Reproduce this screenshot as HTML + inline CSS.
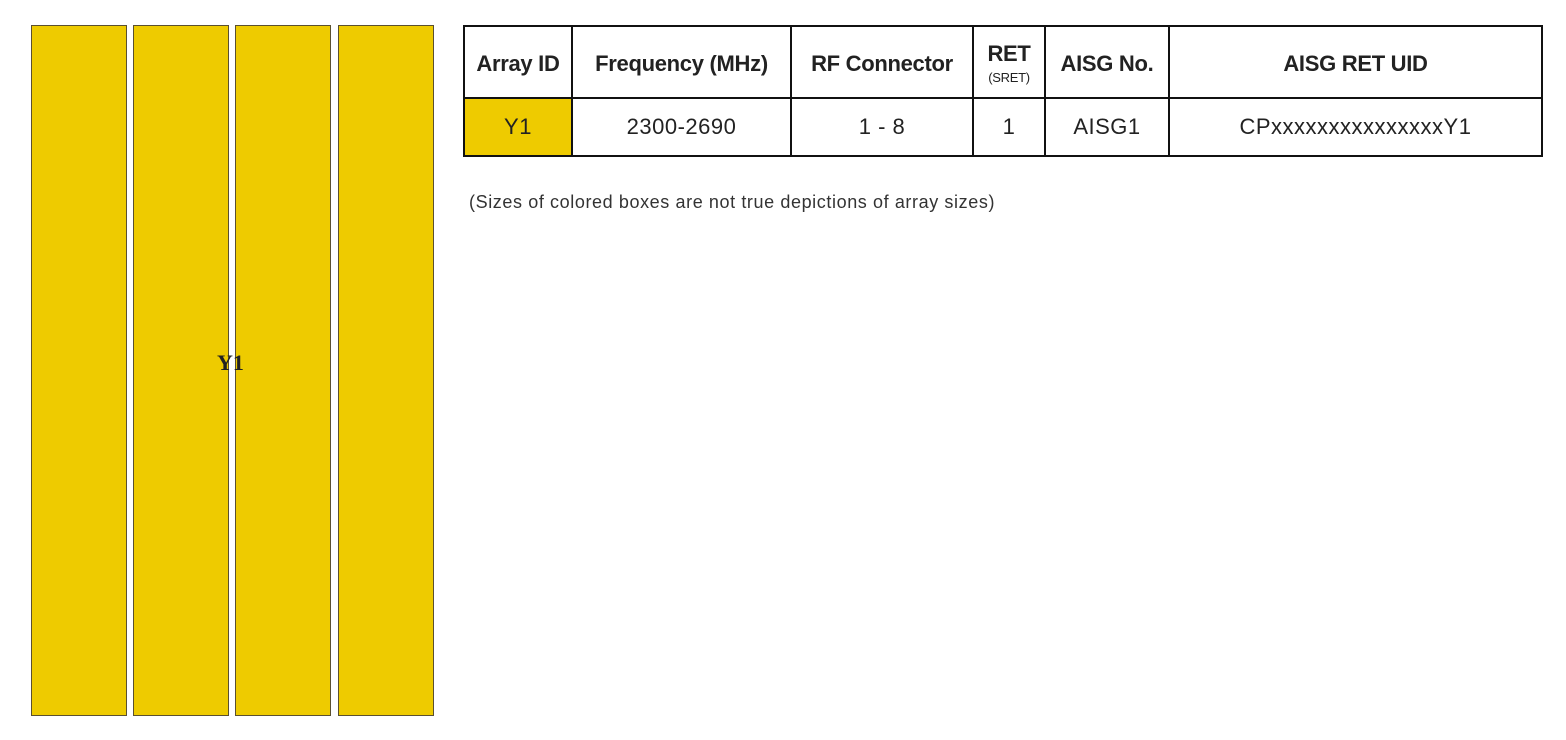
<!DOCTYPE html>
<html><head><style>
body{margin:0;width:1566px;height:740px;background:#fff;position:relative;overflow:hidden;font-family:"Liberation Sans",sans-serif}
.bar{position:absolute;top:25px;height:689px;width:94px;background:#eecb00;border:1px solid #5a5030}
.lbl{position:absolute;left:217px;top:350px;font:bold 22px "Liberation Serif",serif;color:#222}
table{position:absolute;left:463px;top:25px;border-collapse:collapse;border:2px solid #111;table-layout:fixed;width:1078px}
td{border:2px solid #111;text-align:center;color:#222;padding:0;white-space:nowrap}
.h td{height:67px;font-size:22px;font-weight:bold;letter-spacing:-0.3px;padding-top:3px}
.b td{height:56px;font-size:22px;letter-spacing:0.5px}
.note{position:absolute;left:469px;top:192px;font-size:18px;letter-spacing:0.6px;color:#333}
</style></head><body>
<div class="bar" style="left:31px"></div>
<div class="bar" style="left:133px"></div>
<div class="bar" style="left:235px"></div>
<div class="bar" style="left:338px"></div>
<div class="lbl">Y1</div>
<table>
<col style="width:108px"><col style="width:219px"><col style="width:182px"><col style="width:72px"><col style="width:124px"><col style="width:373px">
<tr class="h"><td>Array ID</td><td>Frequency (MHz)</td><td>RF Connector</td><td style="line-height:1"><div>RET</div><div style="font-size:13px;font-weight:normal;margin-top:6px">(SRET)</div></td><td>AISG No.</td><td>AISG RET UID</td></tr>
<tr class="b"><td style="background:#eecb00">Y1</td><td>2300-2690</td><td>1 - 8</td><td>1</td><td>AISG1</td><td>CPxxxxxxxxxxxxxxxY1</td></tr>
</table>
<div class="note">(Sizes of colored boxes are not true depictions of array sizes)</div>
</body></html>
